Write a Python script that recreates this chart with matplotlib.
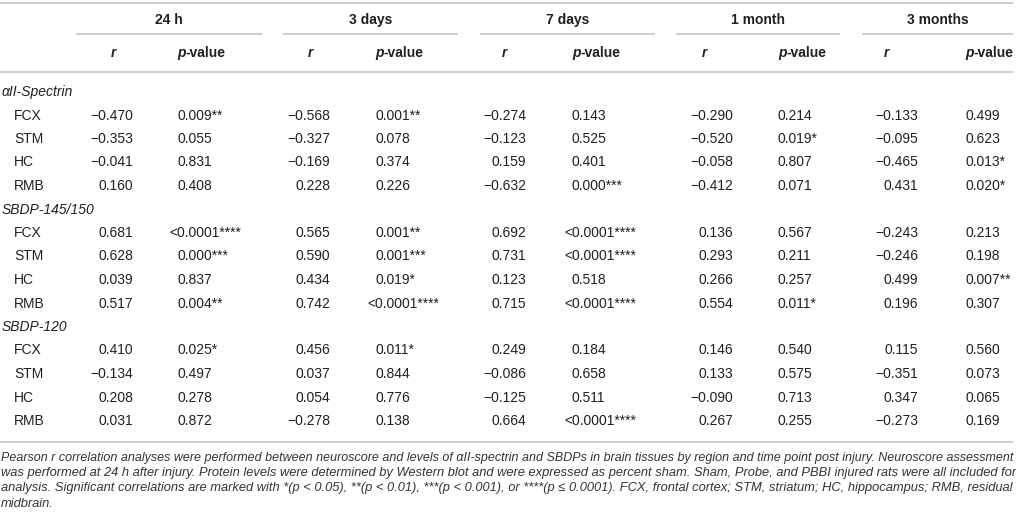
import matplotlib
matplotlib.use('Agg')
import matplotlib.pyplot as plt

# ---------------- data ----------------
timepoints = ['24 h', '3 days', '7 days', '1 month', '3 months']
groups = ['αII-Spectrin', 'SBDP-145/150', 'SBDP-120']
regions = ['FCX', 'STM', 'HC', 'RMB']

r_24h = [-0.470, -0.353, -0.041, 0.160, 0.681, 0.628, 0.039, 0.517, 0.410, -0.134, 0.208, 0.031]
p_24h = ['0.009**', '0.055', '0.831', '0.408', '<0.0001****', '0.000***', '0.837', '0.004**',
         '0.025*', '0.497', '0.278', '0.872']
r_3d = [-0.568, -0.327, -0.169, 0.228, 0.565, 0.590, 0.434, 0.742, 0.456, 0.037, 0.054, -0.278]
p_3d = ['0.001**', '0.078', '0.374', '0.226', '0.001**', '0.001***', '0.019*', '<0.0001****',
        '0.011*', '0.844', '0.776', '0.138']
r_7d = [-0.274, -0.123, 0.159, -0.632, 0.692, 0.731, 0.123, 0.715, 0.249, -0.086, -0.125, 0.664]
p_7d = ['0.143', '0.525', '0.401', '0.000***', '<0.0001****', '<0.0001****', '0.518', '<0.0001****',
        '0.184', '0.658', '0.511', '<0.0001****']
r_1m = [-0.290, -0.520, -0.058, -0.412, 0.136, 0.293, 0.266, 0.554, 0.146, 0.133, -0.090, 0.267]
p_1m = ['0.214', '0.019*', '0.807', '0.071', '0.567', '0.211', '0.257', '0.011*',
        '0.540', '0.575', '0.713', '0.255']
r_3m = [-0.133, -0.095, -0.465, 0.431, -0.243, -0.246, 0.499, 0.196, 0.115, -0.351, 0.347, -0.273]
p_3m = ['0.499', '0.623', '0.013*', '0.020*', '0.213', '0.198', '0.007**', '0.307',
        '0.560', '0.073', '0.065', '0.169']

r_cols = [r_24h, r_3d, r_7d, r_1m, r_3m]
p_cols = [p_24h, p_3d, p_7d, p_1m, p_3m]

caption_lines = [
    "Pearson r correlation analyses were performed between neuroscore and levels of αII-spectrin and SBDPs in brain tissues by region and time point post injury. Neuroscore assessment",
    "was performed at 24 h after injury. Protein levels were determined by Western blot and were expressed as percent sham. Sham, Probe, and PBBI injured rats were all included for",
    "analysis. Significant correlations are marked with *(p < 0.05), **(p < 0.01), ***(p < 0.001), or ****(p ≤ 0.0001). FCX, frontal cortex; STM, striatum; HC, hippocampus; RMB, residual",
    "midbrain.",
]

# ---------------- layout ----------------
W, H = 1016, 515
fig = plt.figure(figsize=(W / 100, H / 100), dpi=100)
ax = fig.add_axes([0, 0, 1, 1])
ax.set_xlim(0, W)
ax.set_ylim(H, 0)
ax.axis('off')

FONT = ['Liberation Sans', 'DejaVu Sans']
TXT = '#231f20'
RULE = '#c9c9c9'
FS = 10.0

group_spans = [(76, 262), (283, 458), (480, 655), (676, 840), (862, 1013)]
r_right = [133, 330, 526, 733, 918]
r_head = [113, 310, 504, 704, 886]
p_left = [177, 375, 572, 778, 965]

y_head = 20
y_rule1 = 34
y_sub = 53
y_rule2 = 72
y_first = 92
pitch = 23.5
y_rule3 = 441.5
cap_base = [460.5, 476, 491.5, 507]

# rules
ax.plot([0, 1013], [2.5, 2.5], color=RULE, lw=1.3, solid_capstyle='butt')
for a, b in group_spans:
    ax.plot([a, b], [y_rule1, y_rule1], color=RULE, lw=1.3, solid_capstyle='butt')
ax.plot([0, 1013], [y_rule2, y_rule2], color=RULE, lw=1.3, solid_capstyle='butt')
ax.plot([0, 1013], [y_rule3, y_rule3], color=RULE, lw=1.3, solid_capstyle='butt')

fig.canvas.draw()
renderer = fig.canvas.get_renderer()


def text_width_px(s, **kw):
    t = ax.text(0, 0, s, **kw)
    w = t.get_window_extent(renderer).width
    t.remove()
    return w


# header
for (a, b), tp in zip(group_spans, timepoints):
    ax.text((a + b) / 2, y_head, tp, ha='center', va='center', fontsize=FS,
            fontweight='bold', family=FONT, color=TXT)
wp = text_width_px('p', fontsize=FS, fontweight='bold', style='italic', family=FONT)
for i in range(5):
    ax.text(r_head[i], y_sub, 'r', ha='center', va='center', fontsize=FS,
            fontweight='bold', style='italic', family=FONT, color=TXT)
    ax.text(p_left[i], y_sub, 'p', ha='left', va='center',
            fontsize=FS, fontweight='bold', style='italic', family=FONT, color=TXT)
    ax.text(p_left[i] + wp, y_sub, '-value', ha='left', va='center', fontsize=FS,
            fontweight='bold', family=FONT, color=TXT)

w_lt = text_width_px('<', fontsize=FS, family=FONT)

# body
row = 0
for g, grp in enumerate(groups):
    y = y_first + row * pitch
    ax.text(2, y, grp, ha='left', va='center', fontsize=FS, style='italic',
            family=FONT, color=TXT)
    row += 1
    for k, reg in enumerate(regions):
        y = y_first + row * pitch
        idx = g * 4 + k
        ax.text(14, y, reg, ha='left', va='center', fontsize=FS, family=FONT, color=TXT)
        for c in range(5):
            rv = r_cols[c][idx]
            rs = f"{rv:.3f}".replace('-', '\u2212')
            ax.text(r_right[c], y, rs, ha='right', va='center', fontsize=FS,
                    family=FONT, color=TXT)
            ps = p_cols[c][idx]
            x0 = p_left[c] - (w_lt if ps.startswith('<') else 0)
            ax.text(x0, y, ps, ha='left', va='center', fontsize=FS,
                    family=FONT, color=TXT)
        row += 1

# caption: each full line fitted to the text width (justified look)
x_left, x_right = 1, 1013
avail = x_right - x_left
base = 8.5
cap_sizes = []
for li, line in enumerate(caption_lines[:-1]):
    fs = base
    for _ in range(3):
        w = text_width_px(line, fontsize=fs, style='italic', family=FONT)
        fs = fs * avail / w
    cap_sizes.append(fs)
for li, line in enumerate(caption_lines):
    fs = cap_sizes[li] if li < len(cap_sizes) else cap_sizes[-1]
    ax.text(x_left, cap_base[li], line, ha='left', va='baseline', fontsize=fs,
            style='italic', family=FONT, color='#333333')

fig.savefig('out.png', dpi=100)
